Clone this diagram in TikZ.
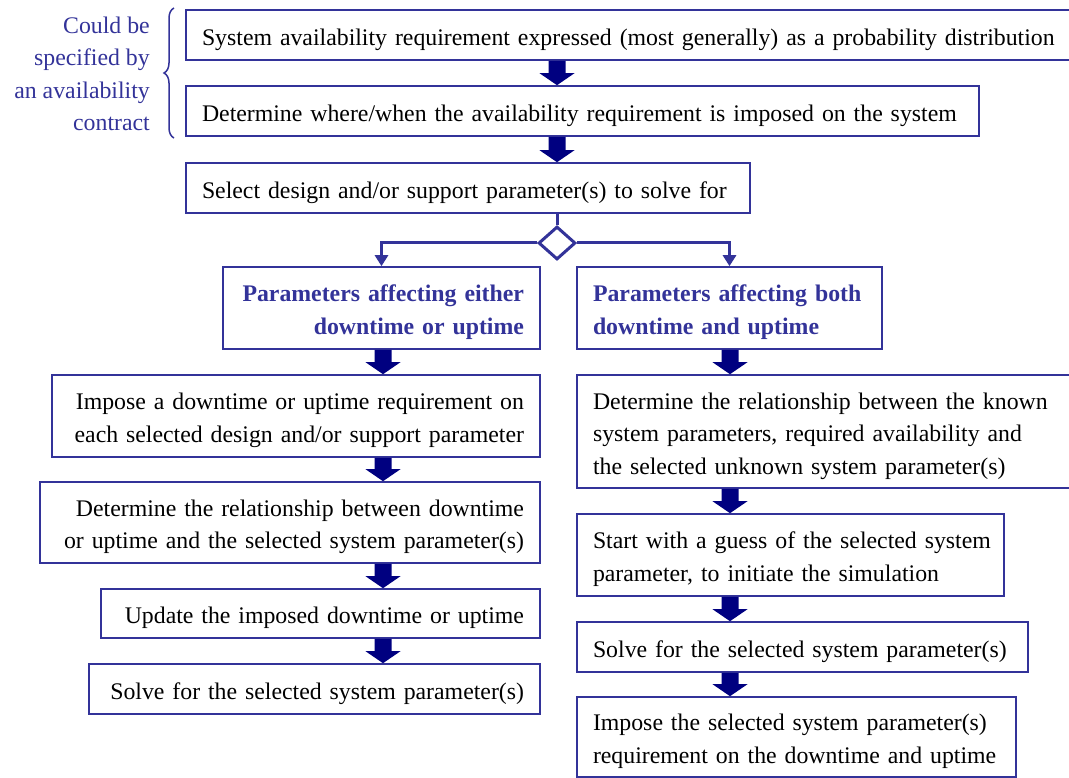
\documentclass[tikz,border=0pt]{standalone}
\usepackage{fontspec}
\setmainfont{Liberation Serif}
\usetikzlibrary{calc,shapes.geometric,arrows.meta,decorations.pathreplacing}
\definecolor{boxblue}{RGB}{51,51,153}
\definecolor{navyarrow}{RGB}{0,0,128}
\newcommand\lineL[1]{\par\noindent\hbox to\hsize{#1\hfil}\par}
\newcommand\lineR[1]{\par\noindent\hbox to\hsize{\hfil#1}\par}
\newcommand\topgap{\par\kern-7pt\relax}
\newcommand\blockarr[3]{%
  \fill[navyarrow] let \p1=(#1.south), \p2=(#2.north), \p3=(#3,0) in
    (\x3-8.5pt,\y1) -- (\x3+8.5pt,\y1) -- (\x3+8.5pt,\y2+12pt) -- (\x3+17.5pt,\y2+12pt)
    -- (\x3,\y2) -- (\x3-17.5pt,\y2+12pt) -- (\x3-8.5pt,\y2+12pt) -- cycle;}
\begin{document}
\begin{tikzpicture}[x=1pt,y=-1pt,
  every node/.style={font=\fontsize{23.8}{32.5}\selectfont},
  box/.style={draw=boxblue,line width=1.6pt,inner ysep=0pt,inner xsep=14pt,fill=white,
    execute at begin node=\topgap},
  lbox/.style={box,text width=#1-32pt,minimum width=#1},
  rbox/.style={box,text width=#1-32pt,minimum width=#1},
  conn/.style={draw=boxblue,line width=3pt},
  bfblue/.style={text=boxblue,font=\bfseries\fontsize{23.8}{32.5}\selectfont},
]
\useasboundingbox (0,0) rectangle (1069,778);
% top boxes
\node[lbox=889pt,minimum height=50pt] (b1) at (630.5,35) {\lineL{System availability requirement expressed (most generally) as a probability distribution}};
\node[lbox=793pt,minimum height=50pt] (b2) at (582.5,111) {\lineL{Determine where/when the availability requirement is imposed on the system}};
\node[lbox=564pt,minimum height=50pt] (b3) at (468,188) {\lineL{Select design and/or support parameter(s) to solve for}};
% brace and note
\draw[boxblue,line width=1.5pt,decorate,decoration={brace,amplitude=10pt}] (174,138) -- (174,8);
\node[align=right,anchor=east,text=boxblue,inner sep=0pt] (note) at (150,74) {Could be\\specified by\\an availability\\contract};
% decision
\node[draw=boxblue,line width=3pt,shape=diamond,minimum width=37pt,minimum height=33pt,inner sep=0pt,fill=white] (dia) at (557,243) {};
% branch boxes
\node[rbox=317pt,minimum height=82pt,bfblue] (b4) at (381.5,308) {\lineR{Parameters affecting either}\lineR{downtime or uptime}};
\node[lbox=305pt,minimum height=82pt,bfblue] (b5) at (729.5,308) {\lineL{Parameters affecting both}\lineL{downtime and uptime}};
\draw[conn] (dia.north |- b3.south) -- (dia.north);
\draw[conn,-{Triangle[width=13pt,length=11pt]}] (dia.west) -| (b4.north);
\draw[conn,-{Triangle[width=13pt,length=11pt]}] (dia.east) -| (b5.north);
% left column
\node[rbox=488pt,minimum height=82pt] (b6) at (296,416) {\lineR{Impose a downtime or uptime requirement on}\lineR{each selected design and/or support parameter}};
\node[rbox=500pt,minimum height=81pt] (b7) at (290,522.5) {\lineR{Determine the relationship between downtime}\lineR{or uptime and the selected system parameter(s)}};
\node[rbox=439pt,minimum height=49pt] (b8) at (320.5,613.5) {\lineR{Update the imposed downtime or uptime}};
\node[rbox=451pt,minimum height=50pt] (b9) at (314.5,689) {\lineR{Solve for the selected system parameter(s)}};
% right column
\node[lbox=508pt,minimum height=113pt] (b10) at (831,431.5) {\lineL{Determine the relationship between the known}\lineL{system parameters, required availability and}\lineL{the selected unknown system parameter(s)}};
\node[lbox=427pt,minimum height=82pt] (b11) at (790.5,555) {\lineL{Start with a guess of the selected system}\lineL{parameter, to initiate the simulation}};
\node[lbox=451pt,minimum height=50pt] (b12) at (802.5,647) {\lineL{Solve for the selected system parameter(s)}};
\node[lbox=439pt,minimum height=80pt] (b13) at (796.5,737) {\lineL{Impose the selected system parameter(s)}\lineL{requirement on the downtime and uptime}};
% block arrows
\blockarr{b1}{b2}{557}
\blockarr{b2}{b3}{557}
\blockarr{b4}{b6}{383}
\blockarr{b6}{b7}{383}
\blockarr{b7}{b8}{383}
\blockarr{b8}{b9}{383}
\blockarr{b5}{b10}{730}
\blockarr{b10}{b11}{730}
\blockarr{b11}{b12}{730}
\blockarr{b12}{b13}{730}
\end{tikzpicture}
\end{document}
